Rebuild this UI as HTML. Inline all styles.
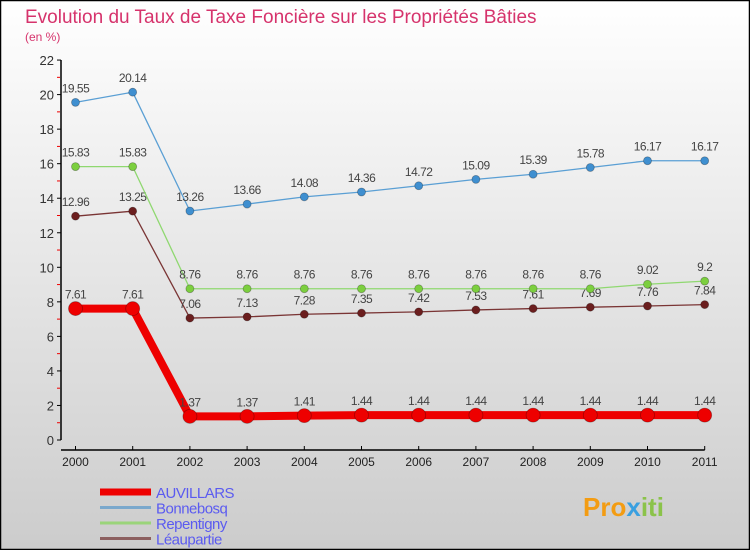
<!DOCTYPE html>
<html><head><meta charset="utf-8"><style>
body{margin:0;}
#c{width:750px;height:550px;position:relative;overflow:hidden;font-family:"Liberation Sans",sans-serif;}
</style></head><body>
<div id="c">
<svg id="s" width="750" height="550" xmlns="http://www.w3.org/2000/svg">
<defs><linearGradient id="bg" x1="0" y1="0" x2="0" y2="1"><stop offset="0" stop-color="#ffffff"/><stop offset="1" stop-color="#cccccc"/></linearGradient></defs>
<rect x="0" y="0" width="750" height="550" fill="url(#bg)"/>
<rect x="0.5" y="0.5" width="749" height="549" fill="none" stroke="#000" stroke-width="1.5"/>
<text x="25" y="23" font-size="19" fill="#d6336c">Evolution du Taux de Taxe Foncière sur les Propriétés Bâties</text>
<text x="25" y="41" font-size="12" fill="#d6336c">(en %)</text>
<g id="axes"></g><g id="series"></g><g id="legend"></g>
<text x="583" y="516" font-size="26" font-weight="bold" fill="#f39c12">Pro<tspan fill="#3aa0e0">x</tspan><tspan fill="#8bc34a">iti</tspan></text>
</svg>
</div>
<script>
const years=["2000","2001","2002","2003","2004","2005","2006","2007","2008","2009","2010","2011"];
const auvillars=[7.61,7.61,1.37,1.37,1.41,1.44,1.44,1.44,1.44,1.44,1.44,1.44];
const bonnebosq=[19.55,20.14,13.26,13.66,14.08,14.36,14.72,15.09,15.39,15.78,16.17,16.17];
const repentigny=[15.83,15.83,8.76,8.76,8.76,8.76,8.76,8.76,8.76,8.76,9.02,9.2];
const leaupartie=[12.96,13.25,7.06,7.13,7.28,7.35,7.42,7.53,7.61,7.69,7.76,7.84];
const yTicks=[0,2,4,6,8,10,12,14,16,18,20,22];
const NS="http://www.w3.org/2000/svg";
function X(i){return 75.5+i*57.2;}
function Y(v){return 440-v*17.27;}
function mk(t,a,p){const e=document.createElementNS(NS,t);for(const k in a)e.setAttribute(k,a[k]);p.appendChild(e);return e;}
const ax=document.getElementById('axes');
let l=mk('line',{x1:61,y1:Y(22),x2:61,y2:Y(0),stroke:'#000','stroke-width':1.5},ax);


l=mk('line',{x1:61,y1:450,x2:X(11),y2:450,stroke:'#000','stroke-width':1.5},ax);


yTicks.forEach(v=>{
 let t=mk('line',{x1:57,y1:Y(v),x2:61,y2:Y(v),stroke:'#000'},ax);
 
 
 if(v<22){let m=mk('line',{x1:57,y1:Y(v+1),x2:60,y2:Y(v+1),stroke:'#e00'},ax);
 
 }
 let tx=mk('text',{x:54,y:Y(v)+5,'text-anchor':'end','font-size':13,fill:'#333'},ax);tx.textContent=v;
 
 
});
years.forEach((y,i)=>{
 let t=mk('line',{x1:X(i),y1:446,x2:X(i),y2:450,stroke:'#000'},ax);
 
 
 let tx=mk('text',{x:X(i),y:466,'text-anchor':'middle','font-size':12,fill:'#222'},ax);tx.textContent=y;
 
 
});
const sg=document.getElementById('series');
function draw(vals,col,dot,w,r,name){
 const g=mk('g',{},sg);
 
 
 const pl=mk('polyline',{points:vals.map((v,i)=>X(i)+','+Y(v)).join(' '),fill:'none',stroke:col,'stroke-width':w,'stroke-linejoin':'round'},g);
 
 
 vals.forEach((v,i)=>{
  const c=mk('circle',{cx:X(i),cy:Y(v),r:r,fill:dot,stroke:'rgba(0,0,0,0.3)','stroke-width':0.8},g);
  
  
  const t=mk('text',{x:X(i),y:Y(v)-10,'text-anchor':'middle','font-size':12,fill:'#444','letter-spacing':'-0.5'},g);t.textContent=v;
  
  
 });
}
draw(leaupartie,'#7a3535','#6b1e1e',1.3,4,'leaupartie');
draw(repentigny,'#8fd870','#7ccf3f',1.3,4,'repentigny');
draw(bonnebosq,'#5a9fd4','#3f8fd0',1.3,4,'bonnebosq');
draw(auvillars,'#ee0000','#ee0000',8,7,'auvillars');
const lg=document.getElementById('legend');
const names=["AUVILLARS","Bonnebosq","Repentigny","Léauparie"];
names[3]="Léaupartie";
const cols=['#ee0000','#7aa8cc','#9ad47a','#8c6060'];
const ws=[7,3,3,3];
names.forEach((n,i)=>{
 const y=492+i*15.5;
 const ln=mk('line',{x1:100,y1:y,x2:151,y2:y,stroke:cols[i],'stroke-width':ws[i]},lg);
 
 
 const t=mk('text',{x:156,y:y+6,'font-size':15,fill:'#5b5bf0','letter-spacing':'-0.5'},lg);t.textContent=n;
 
 
});
</script>
</body></html>
